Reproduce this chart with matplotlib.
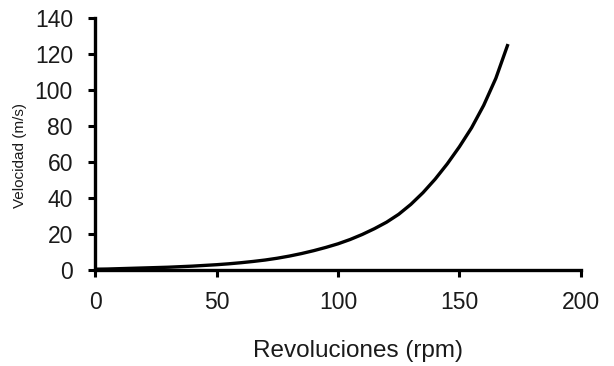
import matplotlib
matplotlib.use("Agg")
import matplotlib.pyplot as plt

# Datos
revoluciones = [0, 5, 10, 15, 20, 25, 30, 35, 40, 45, 50, 55, 60, 65, 70,
                75, 80, 85, 90, 95, 100, 105, 110, 115, 120, 125, 130,
                135, 140, 145, 150, 155, 160, 165, 170]
velocidad = [0.5, 0.6, 0.8, 1.0, 1.2, 1.4, 1.6, 1.9, 2.2, 2.6, 3.0, 3.5,
             4.1, 4.8, 5.6, 6.6, 7.8, 9.2, 10.8, 12.6, 14.6, 17.0, 19.8,
             23.0, 26.6, 31.0, 36.5, 43.0, 50.5, 59.0, 68.5, 79.0, 91.5,
             106.5, 125.5]
x_ticks = [0, 50, 100, 150, 200]
y_ticks = [0, 20, 40, 60, 80, 100, 120, 140]


def main():
    plt.rcParams['font.family'] = ['Liberation Sans', 'DejaVu Sans']

    fig = plt.figure(figsize=(6.14, 3.66), dpi=100)
    ax = fig.add_axes([0.155, 0.262, 0.791, 0.689])

    ax.plot(revoluciones, velocidad, color='black', linewidth=2.4,
            solid_capstyle='butt')

    ax.set_xlim(0, 200)
    ax.set_ylim(0, 140)
    ax.set_xticks(x_ticks)
    ax.set_yticks(y_ticks)

    for side in ['top', 'right']:
        ax.spines[side].set_visible(False)
    for side in ['left', 'bottom']:
        ax.spines[side].set_linewidth(2.4)

    ax.tick_params(direction='out', length=5, width=2.2,
                   labelsize=16.5, colors='black', labelcolor='#1a1a1a')
    ax.tick_params(axis='y', pad=11)
    ax.tick_params(axis='x', pad=10)

    ax.set_xlabel("Revoluciones (rpm)", fontsize=17.5, color='#1a1a1a',
                  va='center')
    ax.xaxis.set_label_coords(0.541, -0.321)
    ax.set_ylabel("Velocidad (m/s)", fontsize=11, color='#1a1a1a',
                  va='center')
    ax.yaxis.set_label_coords(-0.154, 0.456)

    fig.savefig("out.png", dpi=100)


if __name__ == "__main__":
    main()
